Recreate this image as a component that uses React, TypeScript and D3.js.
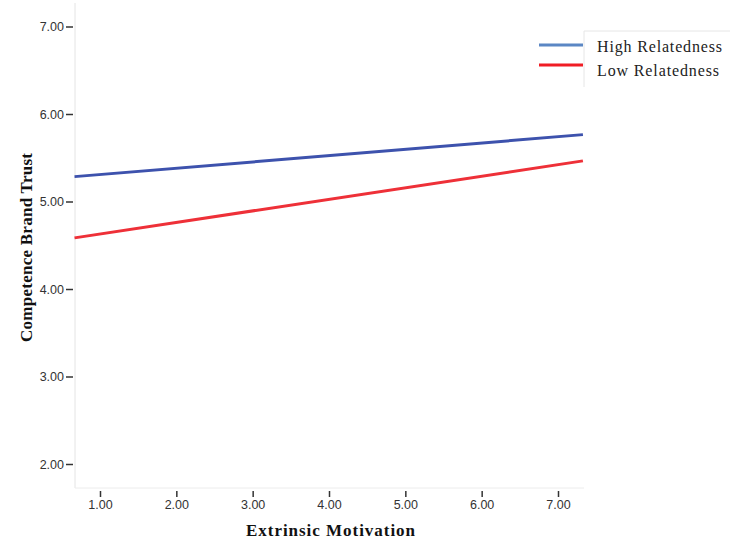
import React from "react";
import * as d3 from "d3";

// Fitted lines: endpoints of each group's regression line
const xEnds = [0.66, 7.32];
const highRelatedness = [5.29, 5.77];
const lowRelatedness = [4.59, 5.47];
const seriesNames = ["High Relatedness", "Low Relatedness"];
const xTicks = [1, 2, 3, 4, 5, 6, 7];
const yTicks = [2, 3, 4, 5, 6, 7];

const W = 730;
const H = 541;
const left = 75;
const right = 584;
const top = 3;
const bottom = 488;

export default function App() {
  const x = d3.scaleLinear().domain([1, 7]).range([100.5, 558.5]);
  const y = d3.scaleLinear().domain([2, 7]).range([464.5, 27]);
  const line = d3
    .line<[number, number]>()
    .x((d) => x(d[0]))
    .y((d) => y(d[1]));
  const series = [
    { name: seriesNames[0], values: highRelatedness, color: "#3d52ad", legend: "#5b87c4", width: 125 },
    { name: seriesNames[1], values: lowRelatedness, color: "#ee3038", legend: "#f01c24", width: 122 },
  ];
  const tickFont = "'Liberation Sans', Arial, sans-serif";
  const serif = "'Liberation Serif', 'Times New Roman', serif";
  return (
    <svg
      width={W}
      height={H}
      style={{ position: "absolute", left: 0, top: 0, background: "#fff" }}
    >
      {/* axis frame */}
      <line x1={left} x2={left} y1={top} y2={bottom} stroke="#e4e4e4" strokeWidth={1} />
      <line x1={left} x2={right} y1={bottom} y2={bottom} stroke="#ececec" strokeWidth={1} />
      {yTicks.map((t) => (
        <g key={"y" + t}>
          <line x1={66} x2={73} y1={y(t)} y2={y(t)} stroke="#333" strokeWidth={1.5} />
          <text
            x={64}
            y={y(t)}
            dy="0.35em"
            textAnchor="end"
            fontFamily={tickFont}
            fontSize={12.5}
            fill="#333"
          >
            {t.toFixed(2)}
          </text>
        </g>
      ))}
      {xTicks.map((t) => (
        <g key={"x" + t}>
          <line x1={x(t)} x2={x(t)} y1={491} y2={497} stroke="#333" strokeWidth={1.5} />
          <text
            x={x(t)}
            y={509}
            textAnchor="middle"
            fontFamily={tickFont}
            fontSize={12.5}
            fill="#333"
          >
            {t.toFixed(2)}
          </text>
        </g>
      ))}
      {/* regression lines */}
      {series.map((s) => (
        <path
          key={s.name}
          d={line(xEnds.map((xv, i) => [xv, s.values[i]] as [number, number])) || ""}
          fill="none"
          stroke={s.color}
          strokeWidth={3}
        />
      ))}
      {/* axis titles */}
      <text
        x={246}
        y={536}
        fontFamily={serif}
        fontWeight="bold"
        fontSize={17}
        textLength={169}
        lengthAdjust="spacing"
        fill="#111"
      >
        Extrinsic Motivation
      </text>
      <text
        transform={`translate(32,342) rotate(-90)`}
        fontFamily={serif}
        fontWeight="bold"
        fontSize={17}
        textLength={189}
        lengthAdjust="spacing"
        fill="#111"
      >
        Competence Brand Trust
      </text>
      {/* legend */}
      <g>
        <line x1={584} x2={584} y1={31} y2={87} stroke="#e6e6e6" />
        <line x1={584} x2={730} y1={31} y2={31} stroke="#e6e6e6" />
        {series.map((s, i) => (
          <g key={"lg" + s.name}>
            <line
              x1={539}
              x2={583}
              y1={45 + i * 20}
              y2={45 + i * 20}
              stroke={s.legend}
              strokeWidth={3}
            />
            <text
              x={597}
              y={52 + i * 24}
              fontFamily={serif}
              fontSize={16}
              textLength={s.width}
              lengthAdjust="spacing"
              fill="#222"
            >
              {s.name}
            </text>
          </g>
        ))}
      </g>
    </svg>
  );
}
